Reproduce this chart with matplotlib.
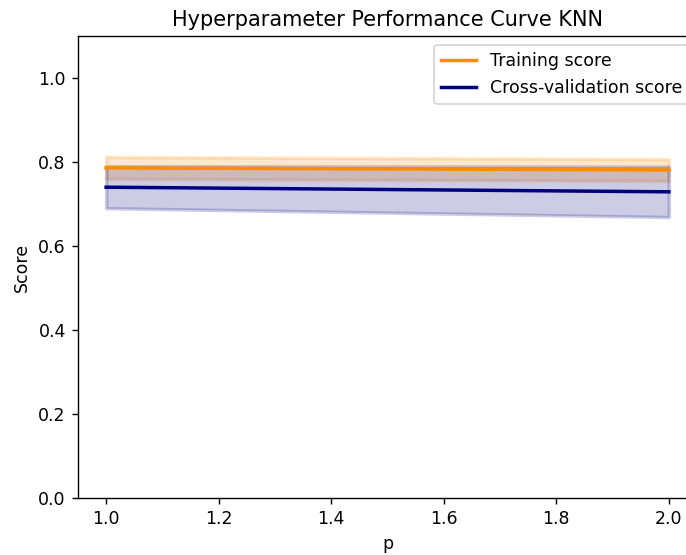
import numpy as np
from matplotlib import pyplot as plt

# Validation curve results for KNN over the Minkowski power p
param_range = [1.0, 2.0]
train_mean = [0.786, 0.781]
train_std = [0.026, 0.026]
test_mean = [0.740, 0.729]
test_std = [0.050, 0.060]

train_mean = np.array(train_mean)
train_std = np.array(train_std)
test_mean = np.array(test_mean)
test_std = np.array(test_std)

# reference looks rendered at ~1.25x scale and cropped on the right
dpi = 125
fig = plt.figure(figsize=(686 / dpi, 555 / dpi), dpi=dpi)
ax = fig.add_axes([78 / 686, 1 - 498 / 555, (697 - 78) / 686, (498 - 36) / 555])

lw = 2
ax.plot(param_range, train_mean, label="Training score", color="darkorange", lw=lw)
ax.fill_between(param_range, train_mean - train_std, train_mean + train_std,
                alpha=0.2, color="darkorange", lw=lw)
ax.plot(param_range, test_mean, label="Cross-validation score", color="navy", lw=lw)
ax.fill_between(param_range, test_mean - test_std, test_mean + test_std,
                alpha=0.2, color="navy", lw=lw)

ax.set_title("Hyperparameter Performance Curve KNN")
ax.set_xlabel("p")
ax.set_ylabel("Score")
ax.set_ylim(0.0, 1.1)
ax.legend(loc="upper right", borderaxespad=0,
          bbox_to_anchor=((689 - 78) / (697 - 78), 1 - (45 - 36) / (498 - 36)))

fig.savefig("out.png", dpi=dpi)
